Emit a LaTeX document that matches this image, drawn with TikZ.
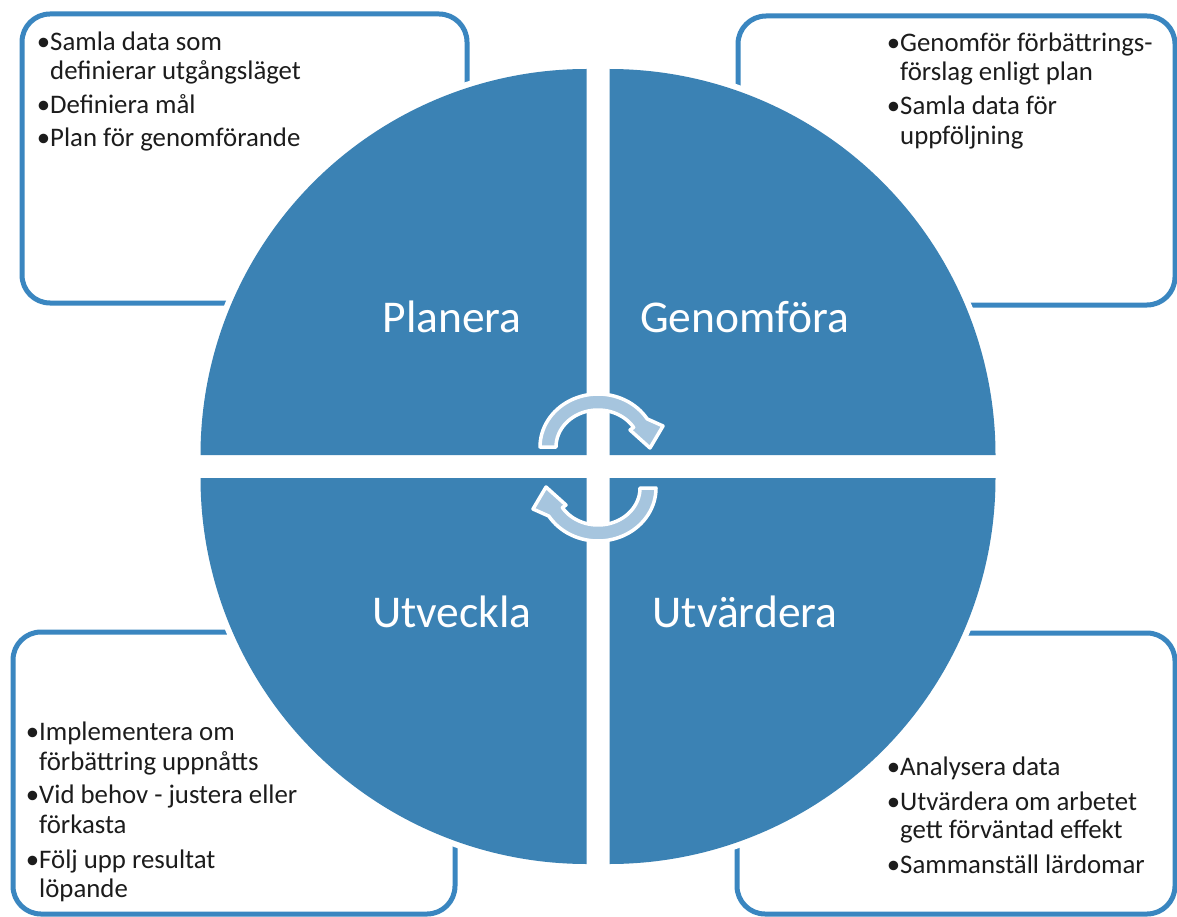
\documentclass[tikz,border=0pt]{standalone}
\usepackage{fontspec}
\setmainfont{Carlito}
\definecolor{qblue}{RGB}{59,130,180}
\definecolor{bline}{RGB}{58,134,192}
\definecolor{arrfill}{RGB}{166,197,222}
\definecolor{txtcol}{RGB}{28,28,28}
\begin{document}
\begin{tikzpicture}[x=1pt,y=-1pt,
  box/.style={draw=bline, line width=5pt, rounded corners=28pt},
  quad/.style={fill=qblue, preaction={draw=white, line width=12pt}},
  arr/.style={fill=arrfill, draw=white, line width=3.5pt, line join=round},
  bt/.style={anchor=base west, inner sep=0pt, font=\fontsize{26.8}{30}\selectfont, text=txtcol},
  lbl/.style={anchor=base, inner sep=0pt, font=\fontsize{45.5}{50}\selectfont, text=white}]
\useasboundingbox (0,0) rectangle (1177,917);
\fill[white] (0,0) rectangle (1177,917);
% boxes
\draw[box] (22,14) rectangle (467,303);
\draw[box] (738,16) rectangle (1175,305);
\draw[box] (13,632) rectangle (455,914);
\draw[box] (737,633) rectangle (1175,914);
% quadrants
\path[quad] (586.5,455) -- plot[domain=180:270, samples=91] ({586.5+386*cos(\x)},{455+386*sin(\x)}) -- cycle;
\path[quad] (609.5,455) -- plot[domain=270:360, samples=91] ({609.5+386*cos(\x)},{455+386*sin(\x)}) -- cycle;
\path[quad] (609.5,478) -- plot[domain=0:90, samples=91] ({609.5+386*cos(\x)},{478+386*sin(\x)}) -- cycle;
\path[quad] (586.5,478) -- plot[domain=90:180, samples=91] ({586.5+386*cos(\x)},{478+386*sin(\x)}) -- cycle;
% labels
\node[lbl] (planera) at (452,332) {Planera};
\node[lbl] (genomfora) at (744.5,332) {Genomföra};
\node[lbl] (utveckla) at (452,627) {Utveckla};
\node[lbl] (utvardera) at (745,627) {Utvärdera};
% cycle arrows
\path[arr] plot[domain=180:328, samples=40] ({598+58*cos(\x)},{447+53*sin(\x)})
  -- (663,426) -- (650,448) -- (630,430)
  -- plot[domain=328:180, samples=40] ({598+42*cos(\x)},{447+37*sin(\x)}) -- cycle;
\begin{scope}[rotate around={180:(598,467.5)}]
\path[arr] plot[domain=180:328, samples=40] ({598+58*cos(\x)},{447+53*sin(\x)})
  -- (663,426) -- (650,448) -- (630,430)
  -- plot[domain=328:180, samples=40] ({598+42*cos(\x)},{447+37*sin(\x)}) -- cycle;
\end{scope}
% top-left text
\node[bt] (tl1) at (50,51) {\llap{•}Samla data som};
\node[bt] (tl2) at (50,80) {definierar utgångsläget};
\node[bt] (tl3) at (50,114) {\llap{•}Definiera mål};
\node[bt] (tl4) at (50,147) {\llap{•}Plan för genomförande};
% top-right text
\node[bt] (tr1) at (900,52) {\llap{•}Genomför förbättrings-};
\node[bt] (tr2) at (900,81) {förslag enligt plan};
\node[bt] (tr3) at (900,115) {\llap{•}Samla data för};
\node[bt] (tr4) at (900,145) {uppföljning};
% bottom-left text
\node[bt] (bl1) at (39,740) {\llap{•}Implementera om};
\node[bt] (bl2) at (39,770) {förbättring uppnåtts};
\node[bt] (bl3) at (39,803) {\llap{•}Vid behov - justera eller};
\node[bt] (bl4) at (39,833) {förkasta};
\node[bt] (bl5) at (39,868) {\llap{•}Följ upp resultat};
\node[bt] (bl6) at (39,897) {löpande};
% bottom-right text
\node[bt] (br1) at (900,775) {\llap{•}Analysera data};
\node[bt] (br2) at (900,810) {\llap{•}Utvärdera om arbetet};
\node[bt] (br3) at (900,838) {gett förväntad effekt};
\node[bt] (br4) at (900,873) {\llap{•}Sammanställ lärdomar};
\end{tikzpicture}
\end{document}
